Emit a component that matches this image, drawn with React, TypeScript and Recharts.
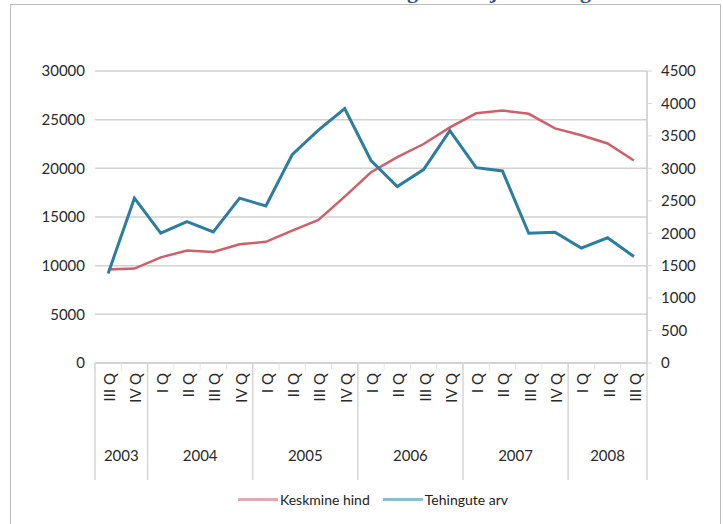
import React from 'react'
import { LineChart, Line, XAxis, YAxis, CartesianGrid, Legend } from 'recharts'

// quarters and the year each one belongs to
const kvartalid = [
  'III Q', 'IV Q',
  'I Q', 'II Q', 'III Q', 'IV Q',
  'I Q', 'II Q', 'III Q', 'IV Q',
  'I Q', 'II Q', 'III Q', 'IV Q',
  'I Q', 'II Q', 'III Q', 'IV Q',
  'I Q', 'II Q', 'III Q',
]
const aastad = [
  '2003', '2003',
  '2004', '2004', '2004', '2004',
  '2005', '2005', '2005', '2005',
  '2006', '2006', '2006', '2006',
  '2007', '2007', '2007', '2007',
  '2008', '2008', '2008',
]

// average price (left axis)
const keskmineHind = [
  9600, 9700, 10850, 11550, 11400, 12200, 12450, 13600, 14700, 17100,
  19600, 21150, 22500, 24200, 25650, 25950, 25600, 24100, 23400, 22550, 20800,
]
// number of transactions (right axis)
const tehinguteArv = [
  1380, 2540, 2000, 2180, 2020, 2540, 2420, 3210, 3590, 3920,
  3120, 2720, 2980, 3580, 3010, 2960, 2000, 2015, 1770, 1930, 1640,
]

const leftTicks = [0, 5000, 10000, 15000, 20000, 25000, 30000]
const rightTicks = [0, 500, 1000, 1500, 2000, 2500, 3000, 3500, 4000, 4500]

const data = kvartalid.map((q, i) => ({
  kvartal: q,
  aasta: aastad[i],
  hind: keskmineHind[i],
  arv: tehinguteArv[i],
}))

const W = 723
const H = 524
const PLOT_LEFT = 95
const PLOT_RIGHT = 647
const BAND = (PLOT_RIGHT - PLOT_LEFT) / kvartalid.length
const AXIS_H = 117

const RED = '#cf5f68'
const BLUE = '#2c7d9f'
const FONT = 'Lato, "Open Sans", sans-serif'

function QuarterTick(props: any) {
  const { x, y, payload, index } = props
  const year = aastad[index]
  const first = index === 0 || aastad[index - 1] !== year
  const last = index === aastad.length - 1
  const count = aastad.filter((a) => a === year).length
  const left = x - BAND / 2
  return (
    <g>
      <line x1={left} x2={left} y1={y} y2={y + 7} stroke="#e2e2e2" strokeWidth={1} />
      <text
        x={x + 1}
        y={y + 10}
        transform={`rotate(-90, ${x + 1}, ${y + 10})`}
        textAnchor="end"
        dominantBaseline="central"
        fontSize={15}
        fontFamily={FONT}
        fill="#2a2a2a"
      >
        {payload.value}
      </text>
      {first && (
        <>
          <line x1={left} x2={left} y1={y} y2={y + AXIS_H} stroke="#d6d6d6" strokeWidth={1.5} />
          <text
            x={left + (count * BAND) / 2}
            y={y + 98}
            textAnchor="middle"
            fontSize={15}
            fontFamily={FONT}
            fill="#2a2a2a"
          >
            {year}
          </text>
        </>
      )}
      {last && (
        <line x1={x + BAND / 2} x2={x + BAND / 2} y1={y} y2={y + AXIS_H} stroke="#d6d6d6" strokeWidth={1.5} />
      )}
    </g>
  )
}

function LegendContent() {
  const items = [
    { name: 'Keskmine hind', color: '#e4a9b3' },
    { name: 'Tehingute arv', color: '#8cbfd2' },
  ]
  return (
    <div style={{ display: 'flex', justifyContent: 'center', alignItems: 'center', fontFamily: FONT, fontSize: 14, color: '#222', paddingLeft: 36 }}>
      {items.map((it) => (
        <div key={it.name} style={{ display: 'flex', alignItems: 'center', marginRight: 13 }}>
          <div style={{ width: 40, height: 3, background: it.color, marginRight: 2 }} />
          <span>{it.name}</span>
        </div>
      ))}
    </div>
  )
}

export default function App() {
  return (
    <div style={{ position: 'absolute', left: 0, top: 0, width: W, height: H, overflow: 'hidden', background: '#fff' }}>
      {/* heading of the page, only its lowest strokes fall inside the frame */}
      <svg width={W} height={20} style={{ position: 'absolute', left: 0, top: 0 }}>
        <text x={354} y={-2} fontFamily='"Liberation Serif", serif' fontWeight="bold" fontSize={22} fill="#2d4f9e">
          Tehingute arv ja hinnangud
        </text>
      </svg>
      <div
        style={{
          position: 'absolute',
          left: 10,
          top: 4,
          width: 711,
          height: 600,
          boxSizing: 'border-box',
          border: '1px solid #bdbdbd',
        }}
      />
      <LineChart
        width={W}
        height={H}
        data={data}
        margin={{ top: 71, right: 10, bottom: H - 363 - AXIS_H, left: 10 }}
        style={{ position: 'absolute', left: 0, top: 0 }}
      >
        <CartesianGrid yAxisId="left" vertical={false} stroke="#d2d2d2" strokeWidth={1.5} />
        <XAxis
          dataKey="kvartal"
          interval={0}
          height={AXIS_H}
          padding={{ left: BAND / 2, right: BAND / 2 }}
          tickSize={0}
          tickMargin={0}
          axisLine={{ stroke: '#cfcfcf', strokeWidth: 1.5 }}
          tickLine={false}
          tick={<QuarterTick />}
        />
        <YAxis
          yAxisId="left"
          width={85}
          domain={[0, 30000]}
          ticks={leftTicks}
          axisLine={false}
          tickLine={false}
          tickSize={0}
          tickMargin={10}
          tick={{ fontSize: 15, fontFamily: FONT, fill: '#2a2a2a' }}
        />
        <YAxis
          yAxisId="right"
          orientation="right"
          width={66}
          domain={[0, 4500]}
          ticks={rightTicks}
          axisLine={{ stroke: '#c8c8c8', strokeWidth: 1.5 }}
          tickLine={{ stroke: '#d8d8d8' }}
          tickSize={5}
          tickMargin={9}
          tick={{ fontSize: 15, fontFamily: FONT, fill: '#2a2a2a', textAnchor: 'start' }}
        />
        <Legend
          verticalAlign="middle"
          align="center"
          layout="horizontal"
          content={<LegendContent />}
          wrapperStyle={{ top: 491, left: 0, width: W }}
        />
        <Line
          yAxisId="left"
          dataKey="hind"
          name="Keskmine hind"
          stroke={RED}
          strokeWidth={2.5}
          dot={false}
          isAnimationActive={false}
        />
        <Line
          yAxisId="right"
          dataKey="arv"
          name="Tehingute arv"
          stroke={BLUE}
          strokeWidth={3}
          dot={false}
          isAnimationActive={false}
        />
      </LineChart>
    </div>
  )
}
